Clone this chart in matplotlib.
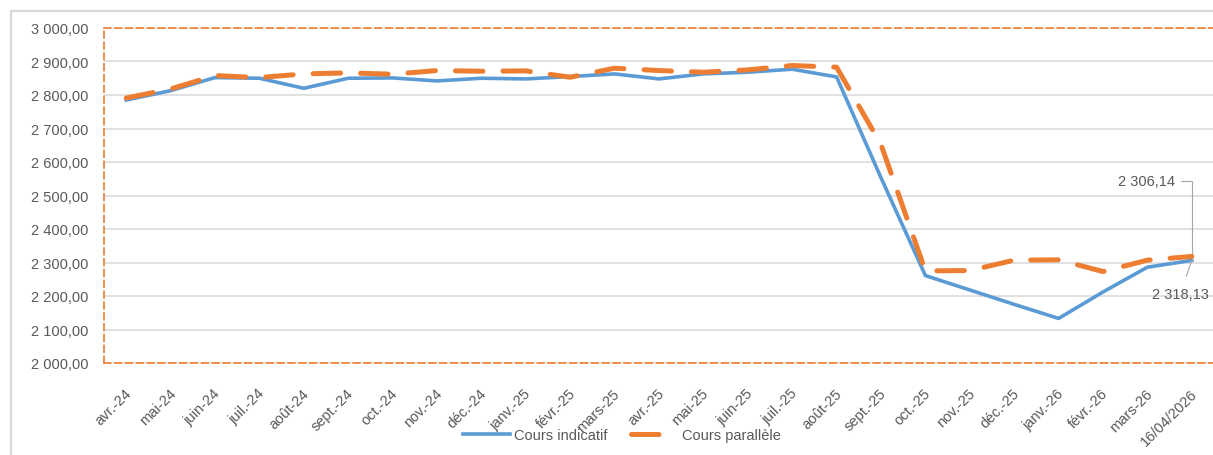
import matplotlib.pyplot as plt
import matplotlib.transforms as mtransforms
from matplotlib.lines import Line2D

plt.rcParams['font.family'] = ['Liberation Sans', 'DejaVu Sans']

months = [
    "avr.-24", "mai-24", "juin-24", "juil.-24", "août-24", "sept.-24",
    "oct.-24", "nov.-24", "déc.-24", "janv.-25", "févr.-25", "mars-25",
    "avr.-25", "mai-25", "juin-25", "juil.-25", "août-25", "sept.-25",
    "oct.-25", "nov.-25", "déc.-25", "janv.-26", "févr.-26", "mars-26",
    "16/04/2026",
]
cours_indicatif = [
    2785, 2813, 2852, 2850, 2820, 2850, 2851, 2842, 2850, 2848, 2855, 2863,
    2848, 2863, 2868, 2877, 2854, 2553, 2261, 2218, 2175, 2133, 2212, 2286,
    2306.14,
]
cours_parallele = [
    2791, 2818, 2858, 2852, 2863, 2866, 2862, 2873, 2871, 2872, 2853, 2880,
    2873, 2868, 2875, 2888, 2883, 2652, 2275, 2276, 2307, 2308, 2273, 2307,
    2318.13,
]

blue = "#5B9BD5"
orange = "#ED7D31"
grey_txt = "#595959"


def fr(v):
    return f"{v:,.2f}".replace(",", " ").replace(".", ",")


fig = plt.figure(figsize=(12.13, 4.56), dpi=100)
ax = fig.add_axes([104 / 1213, 1 - 364 / 456, 1110 / 1213, 335 / 456])

x = list(range(len(months)))
ax.plot(x, cours_indicatif, color=blue, lw=2.6, label="Cours indicatif",
        solid_joinstyle="round", zorder=3)
ax.plot(x, cours_parallele, color=orange, lw=3.6, label="Cours parallèle",
        dashes=(5.5, 4), dash_capstyle="round", zorder=4)

ax.set_xlim(-0.5, len(months) - 0.5)
ax.set_ylim(2000, 3000)
ax.set_yticks(range(2000, 3001, 100))
ax.set_yticklabels([fr(v) for v in range(2000, 3001, 100)])
ax.grid(axis="y", color="#D9D9D9", lw=1.1, zorder=0)
ax.tick_params(axis="y", length=0, pad=11.5, labelsize=10.5, labelcolor=grey_txt)

ax.set_xticks(x)
ax.set_xticklabels(months, rotation=45, ha="right", va="center",
                   rotation_mode="anchor")
ax.tick_params(axis="x", length=0, pad=20, labelsize=10.5, labelcolor=grey_txt)
shift = mtransforms.ScaledTranslation(3 / 100, 0, fig.dpi_scale_trans)
for lab in ax.get_xticklabels():
    lab.set_transform(lab.get_transform() + shift)

for side in ["top", "bottom", "left", "right"]:
    ax.spines[side].set_color(orange)
    ax.spines[side].set_linewidth(1.2)
    ax.spines[side].set_linestyle((0, (4, 2.5)))

# labels on the last point
ax.annotate(fr(cours_indicatif[-1]), xy=(x[-1], cours_indicatif[-1]),
            xytext=(1146, 456 - 182), textcoords="figure pixels",
            ha="center", va="center", fontsize=10.5, color=grey_txt,
            arrowprops=dict(arrowstyle="-", color="#A6A6A6", lw=0.8,
                            shrinkA=3, shrinkB=0,
                            connectionstyle="angle,angleA=0,angleB=90,rad=0"))
ax.annotate(fr(cours_parallele[-1]), xy=(x[-1], cours_indicatif[-1]),
            xytext=(1180, 456 - 295), textcoords="figure pixels",
            ha="center", va="center", fontsize=10.5, color=grey_txt,
            arrowprops=dict(arrowstyle="-", color="#A6A6A6", lw=0.8,
                            shrinkA=6, shrinkB=0))

fig.legend(loc="center", bbox_to_anchor=(622 / 1213, 1 - 436 / 456),
           ncol=2, frameon=False, fontsize=10.5, labelcolor=grey_txt,
           handlelength=3.2, columnspacing=1.6, handletextpad=0.3)

# chart area border
fig.add_artist(Line2D([11 / 1213, 11 / 1213], [0, 1 - 12 / 456],
                      color="#D9D9D9", lw=1.6))
fig.add_artist(Line2D([11 / 1213, 1], [1 - 12 / 456, 1 - 12 / 456],
                      color="#D9D9D9", lw=1.6))

fig.savefig("out.png", dpi=100)
